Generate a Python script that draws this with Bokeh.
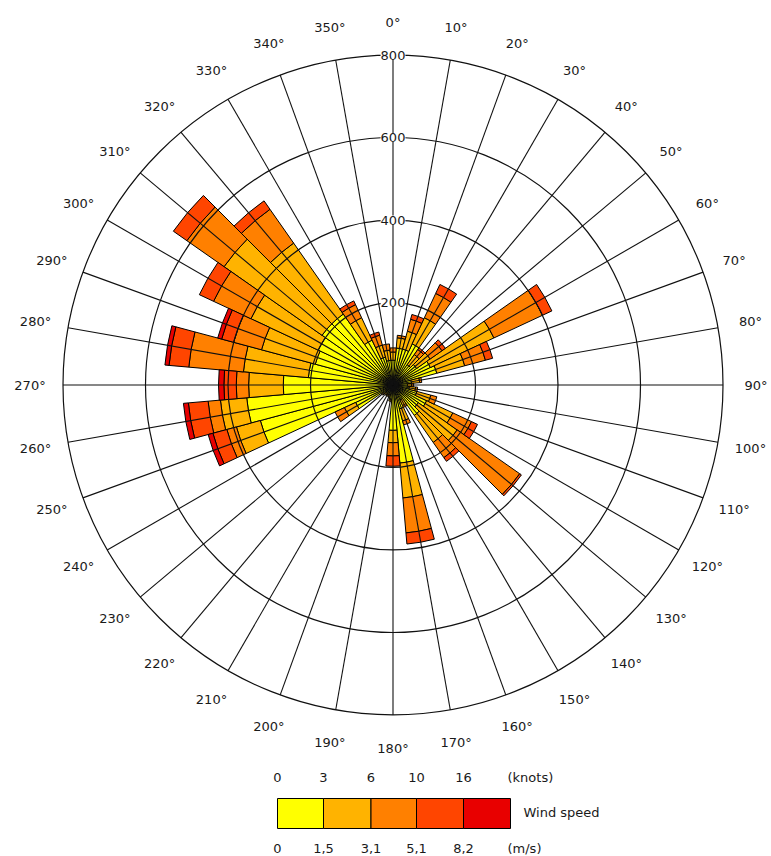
import numpy as np
from bokeh.plotting import figure
from bokeh.models import Label, ColumnDataSource
from bokeh.embed import file_html
from bokeh.resources import INLINE
from bokeh.core.properties import value

# ---------------- data ----------------
directions = list(range(0, 360, 10))
# frequency per speed class (0-1.5, 1.5-3.1, 3.1-5.1, 5.1-8.2, >8.2 m/s)
s1 = [60, 90, 90, 110, 60, 70, 100, 110, 45, 35, 40, 60, 90, 75, 90, 40, 60, 190,
      110, 35, 25, 25, 25, 30, 100, 333, 356, 266, 206, 195, 200, 210, 210, 120, 70, 60]
s2 = [20, 25, 45, 70, 30, 40, 170, 70, 20, 10, 15, 35, 70, 115, 80, 15, 30, 85,
      30, 5, 5, 5, 5, 5, 30, 60, 64, 84, 158, 135, 180, 290, 210, 60, 30, 25]
s3 = [10, 6, 30, 65, 15, 35, 130, 52, 5, 5, 5, 15, 50, 185, 45, 5, 10, 85,
      32, 0, 0, 0, 0, 0, 25, 24, 30, 30, 133, 70, 100, 110, 100, 35, 25, 15]
s4 = [0, 0, 12, 24, 5, 10, 25, 18, 0, 0, 0, 0, 16, 5, 11, 0, 0, 27,
      25, 0, 0, 0, 0, 0, 0, 35, 48, 30, 48, 30, 38, 40, 25, 10, 8, 0]
s5 = [0, 0, 0, 0, 0, 0, 0, 0, 0, 0, 0, 0, 0, 0, 0, 0, 0, 0,
      0, 0, 0, 0, 0, 0, 0, 12, 12, 13, 10, 10, 0, 0, 0, 0, 0, 0]
classes = [s1, s2, s3, s4, s5]
class_colors = ["#FFFF00", "#FFB300", "#FF8000", "#FF4500", "#E80000"]

rings = [200, 400, 600, 800]
ring_labels = ["200", "400", "600", "800"]
dir_labels = [f"{d}\u00b0" for d in directions]
knots_labels = ["0", "3", "6", "10", "16"]
ms_labels = ["0", "1,5", "3,1", "5,1", "8,2"]

# ---------------- geometry ----------------
W, H = 770, 855
CXp, CYp = 392.5, 384.5          # center in canvas px
K = 800 / 330.0                  # data units per px


def pc(px, py):
    """canvas px -> data coords"""
    return (px - CXp) * K, (CYp - py) * K


p = figure(width=W, height=H, output_backend="svg", toolbar_location=None,
           x_range=(-CXp * K, (W - CXp) * K), y_range=(-(H - CYp) * K, CYp * K),
           x_axis_location=None, y_axis_location=None, min_border=0)
p.grid.visible = False
p.outline_line_color = None
p.background_fill_color = "white"
p.border_fill_color = "white"

# ---------------- bars ----------------
dirs = np.array(directions, dtype=float)
cum = np.zeros(len(directions))
for vals, col in zip(classes, class_colors):
    v = np.array(vals, dtype=float)
    mask = v > 0
    inner = cum.copy()
    outer = cum + v
    src = ColumnDataSource(dict(
        inner=inner[mask], outer=outer[mask],
        start=np.radians(90 - dirs[mask] - 5), end=np.radians(90 - dirs[mask] + 5)))
    p.annular_wedge(x=0, y=0, inner_radius="inner", outer_radius="outer",
                    start_angle="start", end_angle="end", source=src,
                    fill_color=col, line_color="black", line_width=1)
    cum = outer

# ---------------- grid ----------------
p.circle(x=0, y=0, radius=rings, fill_color=None, line_color="#111111", line_width=1.2)
rad = np.radians(dirs)
Rmax = rings[-1]
p.segment(x0=0, y0=0, x1=Rmax * np.sin(rad), y1=Rmax * np.cos(rad),
          line_color="#111111", line_width=1.1)

FONT = "DejaVu Sans"
FS = "13px"
TC = "#1a1a1a"
for r, t in zip(rings, ring_labels):
    p.add_layout(Label(x=0, y=r, text=t, text_align="center", text_baseline="middle",
                       text_font=FONT, text_font_size=FS, text_color=TC,
                       background_fill_color="white", background_fill_alpha=1.0))

LR = 880
p.text(x=LR * np.sin(rad), y=LR * np.cos(rad), text=dir_labels,
       text_align="center", text_baseline="middle",
       text_font=value(FONT), text_font_size=FS, text_color=TC)

# ---------------- speed legend ----------------
edges_px = [277, 323, 370.5, 416, 463, 510]
top_y, bot_y = pc(0, 798)[1], pc(0, 828)[1]
lefts = [pc(e, 0)[0] for e in edges_px[:-1]]
rights = [pc(e, 0)[0] for e in edges_px[1:]]
p.quad(left=lefts, right=rights, top=top_y, bottom=bot_y,
       fill_color=class_colors, line_color="black", line_width=1)

lab_x = [pc(e, 0)[0] for e in edges_px[:-1]]
p.text(x=lab_x, y=pc(0, 777)[1], text=knots_labels, text_align="center",
       text_baseline="middle", text_font=value(FONT), text_font_size=FS, text_color=TC)
p.text(x=[pc(507, 0)[0]], y=[pc(0, 777)[1]], text=["(knots)"], text_align="left",
       text_baseline="middle", text_font=value(FONT), text_font_size=FS, text_color=TC)
p.text(x=lab_x, y=pc(0, 848)[1], text=ms_labels, text_align="center",
       text_baseline="middle", text_font=value(FONT), text_font_size=FS, text_color=TC)
p.text(x=[pc(507, 0)[0]], y=[pc(0, 848)[1]], text=["(m/s)"], text_align="left",
       text_baseline="middle", text_font=value(FONT), text_font_size=FS, text_color=TC)
p.text(x=[pc(523, 0)[0]], y=[pc(0, 812)[1]], text=["Wind speed"], text_align="left",
       text_baseline="middle", text_font=value(FONT), text_font_size=FS, text_color=TC)

open("out.html", "w").write(file_html(p, INLINE))
